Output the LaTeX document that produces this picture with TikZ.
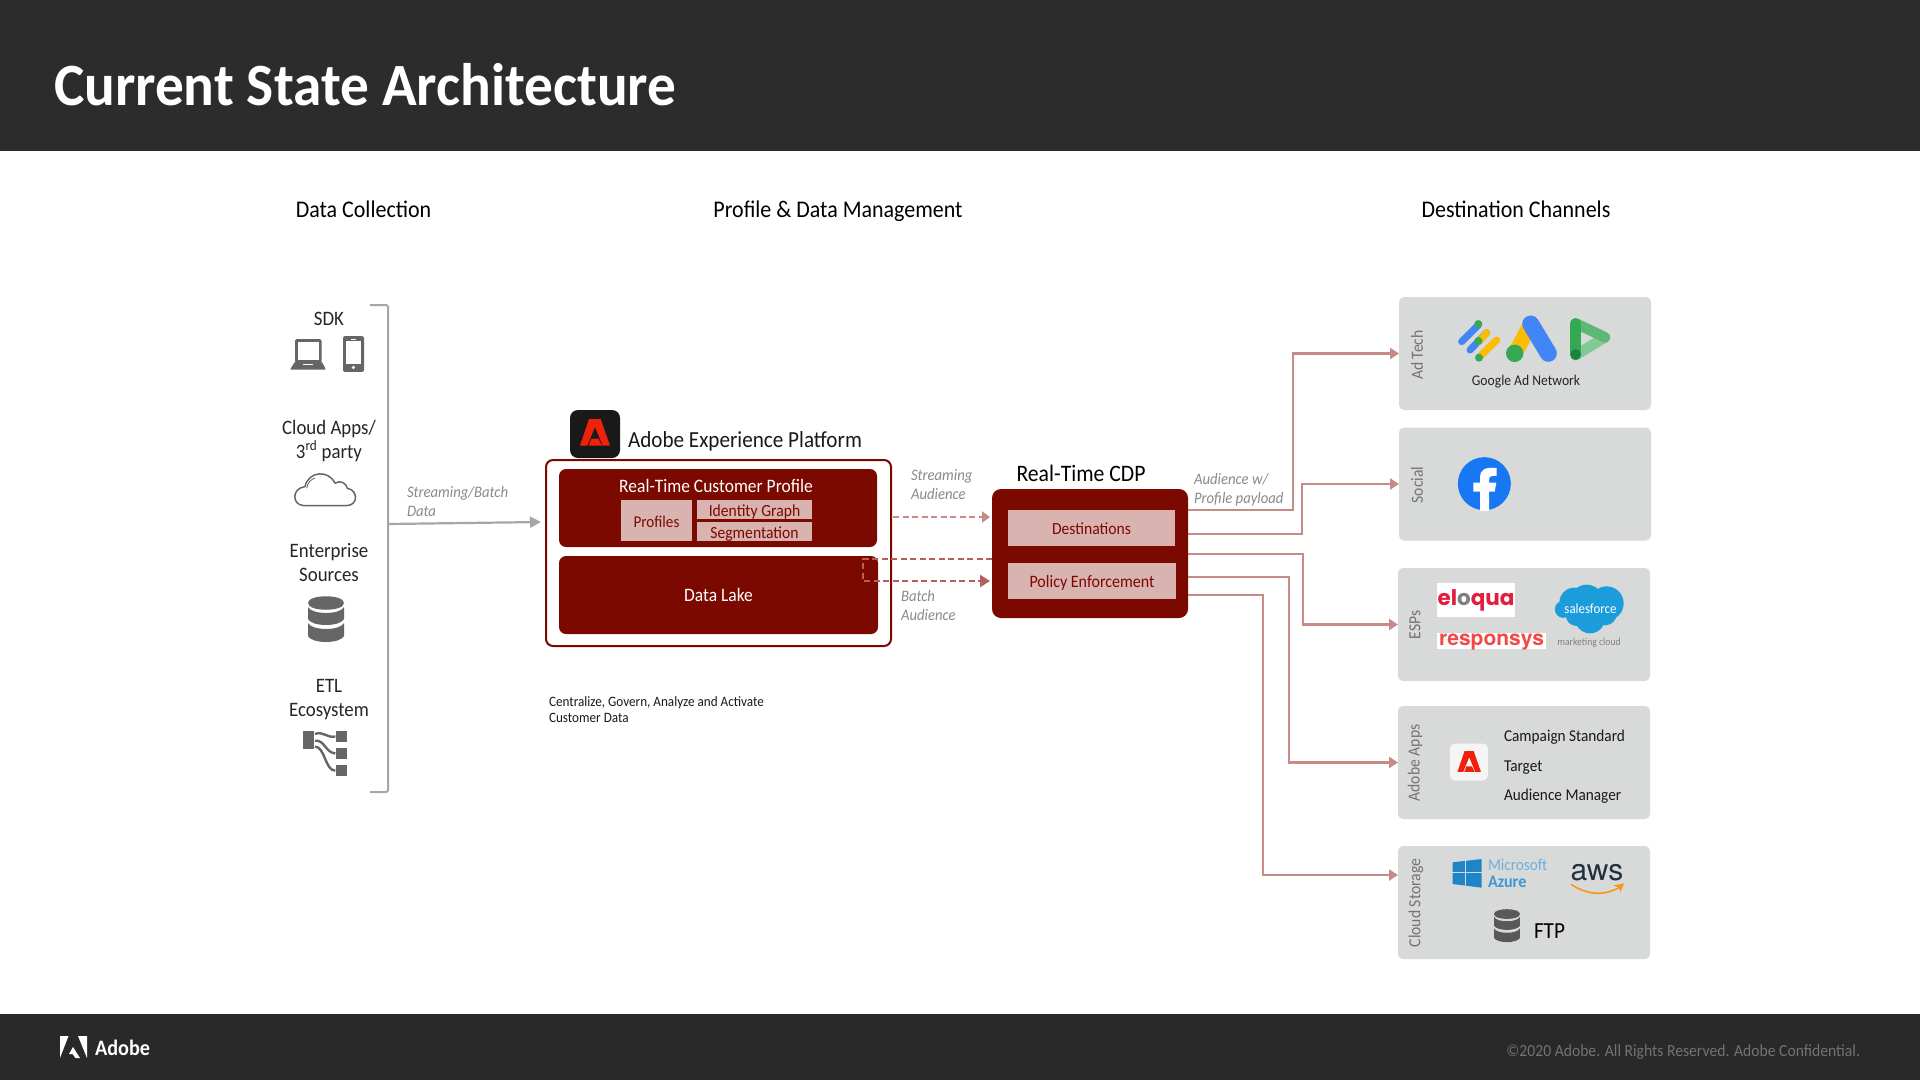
\documentclass[tikz,border=0pt]{standalone}
\usepackage{fontspec}
\setmainfont[FakeStretch=0.92]{Carlito}
\newfontfamily\titlefont[FakeStretch=0.955]{Carlito}
\newfontfamily\logofont{Poppins}
\newfontfamily\helvfont{TeX Gyre Heros}
\usetikzlibrary{arrows.meta,calc}
\definecolor{hdr}{HTML}{2C2C2C}
\definecolor{ftr}{HTML}{292929}
\definecolor{maroon}{HTML}{7B0900}
\definecolor{pinkbox}{HTML}{D9B3B0}
\definecolor{flowc}{HTML}{C68B87}
\definecolor{batchc}{HTML}{B5605B}
\definecolor{chan}{HTML}{D8D9D9}
\definecolor{graytxt}{HTML}{8A8A8A}
\definecolor{iconc}{HTML}{666666}
\definecolor{adobered}{HTML}{F0200A}
\definecolor{gblue}{HTML}{4285F4}
\definecolor{gyellow}{HTML}{FBBC04}
\definecolor{ggreen}{HTML}{34A853}
\definecolor{glight}{HTML}{81C995}
\definecolor{gmid}{HTML}{5BB974}
\definecolor{gdark}{HTML}{1E823E}
\definecolor{fbblue}{HTML}{1877F2}
\definecolor{eloc}{HTML}{E21E3C}
\definecolor{respc}{HTML}{F24848}
\definecolor{sfblue}{HTML}{1B9DDB}
\definecolor{azlogo}{HTML}{1F85C9}
\definecolor{azlight}{HTML}{6EAFDC}
\definecolor{azbold}{HTML}{3E96D4}
\definecolor{awsdark}{HTML}{232F3E}
\definecolor{awsor}{HTML}{F7981D}
\tikzset{
 txt/.style={inner sep=0pt,outer sep=0pt,text=#1},
 fs/.style={font=\fontsize{#1}{#1}\selectfont},
 head/.style={txt=black,fs=23.9,anchor=base},
 lefttxt/.style={txt=black!85,align=center,font=\fontsize{20.5}{24}\selectfont},
 note/.style={txt=graytxt,anchor=west,align=left,font=\fontsize{16}{19}\selectfont\itshape},
 zm/.style 2 args={shift={(#1,#2)},x=0.33333pt,y=-0.33333pt},
 zmb/.style 2 args={shift={(#1,#2)},x=0.33333pt,y=-0.34435pt},
 dark/.style={draw=none,fill=maroon,rounded corners=7pt,inner sep=0pt,outer sep=0pt,text=white},
 pink/.style={draw=none,fill=pinkbox,inner sep=0pt,outer sep=0pt,text=maroon,text height=13pt,text depth=0pt},
 chanbox/.style={draw=none,fill=chan,rounded corners=5pt,minimum width=252pt,minimum height=113pt,inner sep=0pt,outer sep=0pt},
 chanlab/.style={txt=gray!90!black,rotate=90,fs=17},
 flow/.style={draw=flowc,line width=2.2pt,-{Triangle[length=9pt,width=11pt]}},
 flowdash/.style={draw=flowc,line width=2.4pt,dash pattern=on 6pt off 3.5pt,-{Triangle[length=8pt,width=11pt]}},
 batchdash/.style={draw=batchc,line width=2.2pt,dash pattern=on 6pt off 3.5pt,-{Triangle[length=10pt,width=12pt]}},
 grayarrow/.style={draw=black!35,line width=2.2pt,-{Triangle[length=11pt,width=11pt]}},
}
\newcommand\dbicon[4]{\begin{scope}[shift={(#1,#2)},x=#3pt,y=-#3pt]
 \fill[#4] (0,7) .. controls (0,-2) and (36,-2) .. (36,7) .. controls (36,16) and (0,16) .. (0,7) -- cycle;
 \fill[#4] (0,11) .. controls (4,19) and (32,19) .. (36,11) -- (36,23) .. controls (32,31) and (4,31) .. (0,23) -- cycle;
 \fill[#4] (0,27) .. controls (4,35) and (32,35) .. (36,27) -- (36,40) .. controls (32,48) and (4,48) .. (0,40) -- cycle;
\end{scope}}
\newcommand\adobeA[4]{\begin{scope}[shift={(#1,#2)},x=#3pt,y=-#3pt]
 \fill[#4] (0,80) -- (27,0) -- (62,0) -- (90,80) -- (68,80) -- (45,24) -- (22,80) -- cycle;
 \fill[#4] (34,59) -- (55,59) -- (66,80) -- (26,80) -- cycle;
\end{scope}}
\begin{document}
\begin{tikzpicture}[x=1pt,y=-1pt]
\useasboundingbox (0,0) rectangle (1920,1080);
\fill[white] (0,0) rectangle (1920,1080);
\fill[hdr] (0,0) rectangle (1920,151);
\fill[ftr] (0,1014) rectangle (1920,1080);
\node[txt=white,anchor=west,font=\fontsize{60}{60}\selectfont\titlefont\bfseries] (title) at (54,85) {Current State Architecture};
\node[head] (h1) at (363.5,217) {Data Collection};
\node[head] (h2) at (838,217) {Profile \& Data Management};
\node[head] (h3) at (1516,217) {Destination Channels};

% left column
\node[lefttxt] (sdk) at (329,319) {SDK};
\begin{scope}[zmb={260}{280}]
 \fill[iconc,rounded corners=1.5pt] (105,172) rectangle (185,240);
 \fill[white] (113,180) rectangle (177,232);
 \fill[iconc,rounded corners=1pt] (105,237) -- (185,237) -- (198,260) -- (90,260) -- cycle;
 \fill[white] (130,243) rectangle (158,248);
 \fill[iconc,rounded corners=2pt] (249,163) rectangle (312,267);
 \fill[white] (258,178) rectangle (303,243);
 \fill[white] (280,254) circle[radius=1.8pt];
 \fill[white] (273,171) rectangle (287,174);
 \draw[iconc,line width=1.5pt,line join=round] (130,655) .. controls (95,652) and (95,605) .. (135,600) .. controls (145,555) and (205,550) .. (225,590) .. controls (240,580) and (260,590) .. (262,605) .. controls (295,610) and (295,655) .. (260,655) -- cycle;
 \draw[iconc,line width=.8pt] (140,605) .. controls (143,590) and (150,580) .. (165,575);
 \fill[iconc] (129,1310) rectangle (162,1363);
 \fill[iconc] (228,1310) rectangle (261,1342);
 \fill[iconc] (228,1358) rectangle (261,1391);
 \fill[iconc] (228,1407) rectangle (261,1440);
 \draw[iconc,line width=2.4pt] (165,1318) .. controls (190,1310) and (200,1330) .. (226,1326);
 \draw[iconc,line width=2.4pt] (165,1338) .. controls (195,1335) and (195,1372) .. (226,1375);
 \draw[iconc,line width=2.4pt] (165,1355) .. controls (195,1355) and (195,1425) .. (226,1425);
\end{scope}
\node[lefttxt] (cloudapps) at (329,441) {Cloud Apps/\\3\textsuperscript{rd} party};
\node[lefttxt] (enterprise) at (329,562.5) {Enterprise\\Sources};
\dbicon{308}{596}{1}{iconc}
\node[lefttxt] (etl) at (329,699.5) {ETL\\Ecosystem};
\draw[draw=black!35,line width=2pt,rounded corners=1.5pt] (370,305) -- (388,305) -- (388,792) -- (370,792);
\coordinate (brk) at (388,524);
\coordinate (plt) at (541,522);
\draw[grayarrow] (brk) -- (plt);
\node[note] (nstream) at (407,501) {Streaming/Batch\\Data};

% platform
\node[draw=maroon,line width=2pt,fill=white,rounded corners=7pt,minimum width=345pt,minimum height=186pt,inner sep=0pt,outer sep=0pt] (platform) at (718.5,553) {};
\node[dark,minimum width=318pt,minimum height=78pt] (rtcp) at (718,508) {};
\node[txt=white,fs=19] (rtcptxt) at (716,486) {Real-Time Customer Profile};
\node[pink,minimum width=71pt,minimum height=41pt,fs=16.5] (profiles) at (656.5,520.5) {Profiles};
\node[pink,minimum width=115pt,minimum height=19pt,fs=17] (identity) at (754.5,509.5) {Identity Graph};
\node[pink,minimum width=115pt,minimum height=19pt,fs=17] (segment) at (754.5,531.5) {Segmentation};
\node[dark,minimum width=319pt,minimum height=78pt,fs=19] (lake) at (718.5,595) {Data Lake};
\node[fill=black!90,rounded corners=8pt,minimum width=50pt,minimum height=48pt,inner sep=0pt,outer sep=0pt] (aeplogo) at (595,434) {};
\adobeA{580}{419}{0.333}{adobered}
\node[txt=black!90,anchor=west,fs=23] (aep) at (628,441) {Adobe Experience Platform};
\node[txt=black,fs=23.6] (cdptitle) at (1081,473) {Real-Time CDP};
\node[dark,minimum width=196pt,minimum height=129pt,rounded corners=9pt] (cdp) at (1090,553.5) {};
\node[pink,minimum width=167pt,minimum height=36pt,fs=17] (dest) at (1091.5,528) {Destinations};
\node[pink,minimum width=168pt,minimum height=36pt,fs=17.4] (policy) at (1092,581) {Policy Enforcement};
\node[note] (nstrm) at (911,485) {Streaming\\Audience};
\node[note] (nbatch) at (901,605) {Batch\\Audience};
\node[note] (naud) at (1194,490) {Audience w/\\Profile payload};
\coordinate (sa) at (893,517);
\coordinate (sb) at (990,517);
\draw[flowdash] (sa) -- (sb);
\coordinate (ba) at (992,559);
\coordinate (bb) at (990,581);
\draw[batchdash] (ba) -- ++(-129,0) -- ++(0,22) -- (bb);

\node[txt=black!90,anchor=west,align=left,font=\fontsize{14.3}{16}\selectfont] (caption) at (549,710) {Centralize, Govern, Analyze and Activate\\Customer Data};

% channels
\node[chanbox] (adtech) at (1525,353.5) {};
\node[chanbox] (social) at (1525,484) {};
\node[chanbox] (esp) at (1524,624.5) {};
\node[chanbox] (adobeapps) at (1524,762.5) {};
\node[chanbox] (cloudst) at (1524,902.5) {};
\node[chanlab] at (1417,355) (ladtech) {Ad Tech};
\node[chanlab] at (1417,485) (lsocial) {Social};
\node[chanlab] at (1415,625) (lesp) {ESPs};
\node[chanlab] at (1415,763) (ladobe) {Adobe Apps};
\node[chanlab] at (1416,903) (lcloud) {Cloud Storage};
\coordinate (c1) at (1188,510);
\coordinate (c2) at (1188,534);
\coordinate (c3) at (1188,554);
\coordinate (c4) at (1188,577);
\coordinate (c5) at (1188,595);
\coordinate (cloudin) at (1398,875);
\draw[flow] (c1) -- ++(105,0) |- (adtech.west);
\draw[flow] (c2) -- ++(114,0) |- (social.west);
\draw[flow] (c3) -- ++(115,0) |- (esp.west);
\draw[flow] (c4) -- ++(101,0) |- (adobeapps.west);
\draw[flow] (c5) -- ++(75,0) |- (cloudin);

% google icons
\begin{scope}[zm={1390}{290}]
 \draw[line width=7pt,line cap=round,draw=gblue] (215,155) -- (265,105);
 \draw[line width=7pt,line cap=round,draw=gblue] (240,180) -- (290,128);
 \draw[line width=7pt,line cap=round,draw=gyellow] (267,155) -- (290,128);
 \draw[line width=7pt,line cap=round,draw=gyellow] (267,203) -- (320,150);
 \fill[ggreen] (265,102) circle[radius=4pt];
 \fill[ggreen] (265,153) circle[radius=4pt];
 \fill[ggreen] (267,203) circle[radius=4pt];
 \draw[line width=15pt,draw=gyellow] (375,190) -- (422,102);
 \draw[line width=17pt,line cap=round,draw=gblue] (422,102) -- (475,190);
 \fill[ggreen] (374,190) circle[radius=8.7pt];
 \draw[line width=10.5pt,line cap=round,draw=glight] (645,142) -- (557,195);
 \draw[line width=10.5pt,line cap=round,draw=gmid] (557,100) -- (645,142);
 \draw[line width=10.5pt,line cap=round,draw=ggreen] (557,100) -- (557,195);
 \fill[gdark] (557,193) circle[radius=5.3pt];
 % facebook
 \fill[fbblue] (283,581) circle[radius=26.5pt];
 \fill[white] (270,662) -- (270,605) -- (250,605) -- (250,578) -- (270,578) -- (270,560) .. controls (270,540) and (285,530) .. (320,534) -- (320,558) .. controls (302,556) and (297,560) .. (297,570) -- (297,578) -- (319,578) -- (314,605) -- (297,605) -- (297,662) .. controls (288,663) and (279,663) .. (270,662) -- cycle;
\end{scope}
\node[txt=black!85,fs=14.8] (gan) at (1526,382) {Google Ad Network};

% ESPs
\fill[white] (1437,583) rectangle (1515,617);
\fill[white] (1437,633) rectangle (1546,649);
\node[txt=eloc,font=\fontsize{21.5}{21.5}\selectfont\logofont\bfseries] (eloqua) at (1476,600) {el{\color{gray}o}qua};
\node[txt=respc,font=\fontsize{21}{21}\selectfont\helvfont\bfseries] (responsys) at (1491.5,642.5) {responsys};
\begin{scope}[zm={1390}{560}]
 \fill[sfblue] (553,128) circle[radius=15pt] (600,105) circle[radius=8pt] (590,125) circle[radius=17pt] (650,130) circle[radius=17pt] (600,175) circle[radius=15pt] (560,165) circle[radius=11pt] (645,160) circle[radius=12pt] (520,148) circle[radius=8.5pt];
\end{scope}
\node[txt=white,fs=14] (sfdc) at (1590.5,609) {salesforce};
\node[txt=gray,fs=10.5] (mcloud) at (1589,643) {marketing cloud};

% Adobe apps
\node[fill=black!4,rounded corners=5pt,minimum width=38pt,minimum height=37pt,inner sep=0pt] (applogo) at (1469,762) {};
\adobeA{1457.5}{751}{0.26}{adobered}
\node[txt=black!90,anchor=west,fs=16.6] (camp) at (1504,737) {Campaign Standard};
\node[txt=black!90,anchor=west,fs=16.6] (tgt) at (1504,767.5) {Target};
\node[txt=black!90,anchor=west,fs=16.6] (aam) at (1504,796) {Audience Manager};

% Cloud logos
\begin{scope}[zm={1390}{830}]
 \fill[azlogo] (188,97) -- (275,87) -- (275,173) -- (188,162) -- cycle;
 \draw[chan,line width=.9pt] (225,85) -- (225,175) (185,128) -- (280,128);
 \fill[awsor] (670,166) -- (702,160) -- (692,186) -- (686,172) -- cycle;
 \draw[line width=1.6pt,draw=awsor] (543,163) .. controls (600,200) and (650,195) .. (692,170);
\end{scope}
\node[txt=azlight,anchor=west,fs=16.5] (azure1) at (1488,865) {Microsoft};
\node[txt=azbold,anchor=west,font=\fontsize{17.5}{17.5}\selectfont\bfseries] (azure2) at (1488,881.5) {Azure};
\node[txt=awsdark,font=\fontsize{30}{30}\selectfont\helvfont] (aws) at (1597,872.5) {aws};
\dbicon{1494}{909}{0.72}{black!65}
\node[txt=black,anchor=west,fs=23] (ftp) at (1534,931) {FTP};

% footer
\fill[white] (60,1036) -- (68.5,1036) -- (60,1058) -- cycle;
\fill[white] (78,1036) -- (87,1036) -- (87,1058) -- cycle;
\fill[white] (73,1047) -- (80,1058) -- (75.5,1058) -- (72.5,1054) -- (69,1054) -- cycle;
\node[txt=white,anchor=west,font=\fontsize{22}{22}\selectfont\bfseries] (adobe) at (95,1048) {Adobe};
\node[txt=black!55,anchor=east,fs=17] (copy) at (1860,1052) {©2020 Adobe. All Rights Reserved. Adobe Confidential.};
\end{tikzpicture}
\end{document}
